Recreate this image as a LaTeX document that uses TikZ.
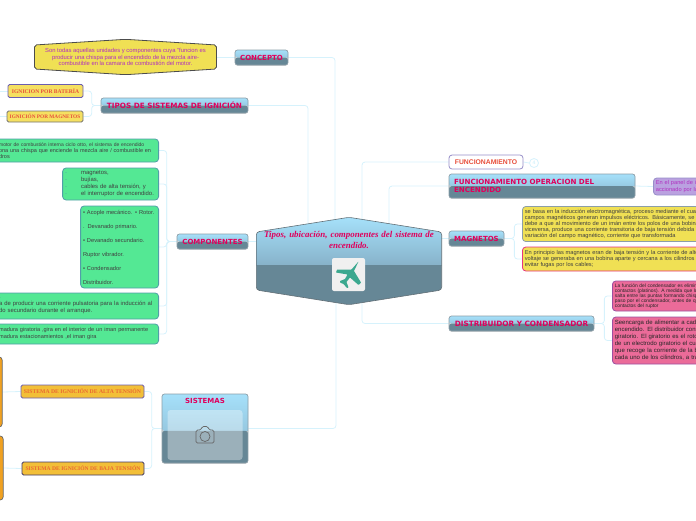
\documentclass[tikz,border=0pt]{standalone}
\usepackage{fontspec}
\setmainfont{Liberation Sans}
\newfontfamily\headfont{DejaVu Sans}
\newfontfamily\rootfont{Liberation Serif}
\usepackage{xcolor}
\usepackage{tikz}
\usetikzlibrary{positioning, shadows, calc, backgrounds}
\definecolor{mylink}{rgb}{0.84, 0.95, 0.99}
\definecolor{mycrimson}{rgb}{0.88, 0.00, 0.36}
\definecolor{mysky}{rgb}{0.65, 0.88, 0.98}
\definecolor{mysteel}{rgb}{0.53, 0.70, 0.79}
\definecolor{myslate}{rgb}{0.40, 0.53, 0.59}
\definecolor{myedge}{rgb}{0.55, 0.62, 0.66}
\definecolor{mygreen}{rgb}{0.33, 0.91, 0.58}
\definecolor{mygreenedge}{rgb}{0.32, 0.62, 0.66}
\definecolor{myyellow}{rgb}{0.94, 0.88, 0.33}
\definecolor{mylabel}{rgb}{0.96, 0.88, 0.38}
\definecolor{mygold}{rgb}{0.95, 0.75, 0.22}
\definecolor{myorange}{rgb}{0.94, 0.63, 0.13}
\definecolor{mypink}{rgb}{0.92, 0.42, 0.60}
\definecolor{myviolet}{rgb}{0.61, 0.31, 0.63}
\definecolor{mylilac}{rgb}{0.73, 0.63, 0.88}
\definecolor{myindigo}{rgb}{0.42, 0.37, 0.69}
\definecolor{myteal}{rgb}{0.23, 0.66, 0.56}
\definecolor{myred}{rgb}{0.91, 0.31, 0.23}
\definecolor{mymagenta}{rgb}{0.69, 0.19, 0.75}
\newcommand{\splitpaint}[1]{%
  \shade[top color=mysky, bottom color=mysteel] (path picture bounding box.north west) rectangle ($(path picture bounding box.west)!#1!(path picture bounding box.south west)+(200,0)$);
  \fill[myslate] ($(path picture bounding box.west)!#1!(path picture bounding box.south west)$) rectangle (path picture bounding box.south east);}
\newcommand{\hexpath}{(256.3,232) -- (349,217.3) -- (441.7,232) -- (441.7,290) -- (349,304.7) -- (256.3,290) -- cycle}
\tikzstyle{link} = [draw=mylink, line width=0.8pt, rounded corners=3pt]
\tikzstyle{branch} = [draw=myedge, line width=0.7pt, rounded corners=2.5pt, inner sep=1pt, text=mycrimson, drop shadow={shadow xshift=0pt, shadow yshift=-0.8pt, opacity=0.3}, font=\headfont\bfseries\fontsize{7}{8.2}\selectfont, path picture={\splitpaint{0.02}}]
\tikzstyle{note} = [draw, line width=0.8pt, rounded corners=3.5pt, anchor=west, inner sep=2.5pt, align=left, text=black!75, font=\fontsize{5.65}{6.2}\selectfont]
\tikzstyle{greennote} = [note, fill=mygreen, draw=mygreenedge, anchor=east, font=\fontsize{5.9}{7}\selectfont]
\tikzstyle{widenote} = [greennote, minimum width=163pt, text width=156pt, inner xsep=3.5pt]
\tikzstyle{tag} = [draw, line width=0.8pt, rounded corners=1.5pt, inner sep=1pt, minimum height=13pt, font=\rootfont\bfseries\fontsize{5.7}{6}\selectfont]
\begin{document}
\begin{tikzpicture}[x=1pt, y=-1pt]
    \useasboundingbox (0,0) rectangle (696,520);
    \clip (0,0) rectangle (696,520);

    % centre
    \begin{scope}
      \clip[rounded corners=3pt] \hexpath;
      \shade[top color=mysky, bottom color=mysteel] (256,217) rectangle (442,265);
      \fill[myslate] (256,265) rectangle (442,305);
    \end{scope}
    \draw[myedge!70!black, line width=0.6pt, rounded corners=3pt] \hexpath;
    \node[minimum width=187pt, minimum height=89pt, inner sep=0pt, text width=186pt, align=center, text=mycrimson, font=\rootfont\bfseries\itshape\fontsize{8.9}{11}\selectfont] (root) at (349,261) {\raisebox{18.5pt}[0pt][0pt]{\parbox{186pt}{\centering Tipos, ubicación, componentes del sistema de\\encendido.}}};
    \node[fill=white!94!black, rounded corners=2pt, minimum size=33pt] (plane) at (348.5,274.5) {};
    \fill[myteal, rounded corners=0.4pt, shift={(plane.center)}] (10,-13) -- (5.5,-3.5) -- (12.5,8) -- (10,10.5) -- (1.5,3) -- (-2,7.5) -- (0,13) -- (-1.5,13.5) -- (-5,9.5) -- (-8.5,8) -- (-8.5,6.5) -- (-3.5,4.5) -- (-1,0) -- (-12.5,-2) -- (-11.5,-5) -- (3,-5) -- cycle;

    % left side
    \node[branch, minimum width=53pt, minimum height=15pt] (concepto) at (261.5,57.5) {CONCEPTO};
    \draw[fill=myyellow, draw=black!70, line width=0.8pt, rounded corners=2pt] (34.5,45) -- (125.5,39.3) -- (216.5,45) -- (216.5,69) -- (125.5,74.7) -- (34.5,69) -- cycle;
    \node[minimum width=183pt, minimum height=36pt, inner sep=0pt, align=center, text=mymagenta, font=\fontsize{5.85}{6.7}\selectfont] (definicion) at (125.5,57) {Son todas aquellas unidades y componentes cuya "funcion es\\producir una chispa para el encendido de la mezcla aire-\\combustible en la camara de combustión del motor.};
    \node[branch, minimum width=147pt, minimum height=15pt, font=\headfont\bfseries\fontsize{7.25}{8.2}\selectfont] (tipos) at (174.5,105.5) {TIPOS DE SISTEMAS DE IGNICIÓN};
    \node[tag, fill=mylabel, draw=myindigo, text=myred, minimum width=75pt, font=\rootfont\bfseries\fontsize{5.6}{6}\selectfont] (bateria) at (45.5,91) {IGNICION POR BATERÍA};
    \node[tag, fill=mylabel, draw=black!55, text=myred, minimum width=76pt, minimum height=11pt, font=\rootfont\bfseries\fontsize{5.3}{6}\selectfont] (magnetos) at (45,116.5) {IGNICIÓN POR MAGNETOS};
    \coordinate (bateriaend) at (-4,91);
    \coordinate (magnetosend) at (-4,116.5);

    \node[branch, minimum width=71pt, minimum height=15pt] (componentes) at (212.5,241.5) {COMPONENTES};
    \node[widenote, minimum height=23pt, font=\fontsize{5.5}{6}\selectfont] (motor) at (159,150.5) {{\fontsize{5}{6}\selectfont motor de combustión interna ciclo otto, el sistema de encendido}\\ona una chispa que enciende la mezcla aire / combustible en\\dros};
    \node[greennote, minimum width=96pt, minimum height=32pt, text width=91pt, inner xsep=2.5pt] (partes) at (159,184) {\makebox[16pt][l]{\textcolor{mygreenedge}{-}}magnetos,\\ \makebox[16pt][l]{\textcolor{mygreenedge}{-}}bujías,\\ \makebox[16pt][l]{\textcolor{mygreenedge}{-}}cables de alta tensión, y\\ \makebox[16pt][l]{\textcolor{mygreenedge}{-}}el interruptor de encendido.};
    \node[greennote, minimum width=78pt, minimum height=82pt, text width=73pt, font=\fontsize{5.7}{14}\selectfont] (bobina) at (159,247) {• Acople mecánico. • Rotor.\\. Devanado primario.\\• Devanado secundario.\\Ruptor vibrador.\\• Condensador\\Distribuidor.};
    \node[widenote, minimum height=26pt] (pulso) at (159,306) {.\\a de producir una corriente pulsatoria para la inducción al\\do secundario durante el arranque.};
    \node[widenote, minimum height=20pt, font=\fontsize{5.6}{7}\selectfont] (iman) at (159,334) {madura giratoria ,gira en el interior de un iman permanente\\madura  estacionamientos ,el iman gira};

    \node[branch, minimum width=86pt, minimum height=69pt, path picture={\splitpaint{0.07}}] (sistemas) at (205,428.5) {};
    \node[text=mycrimson, font=\headfont\bfseries\fontsize{7}{8.2}\selectfont, inner sep=0pt] (sistemastxt) at (205,401) {SISTEMAS};
    \node[fill=white, fill opacity=0.35, rounded corners=3pt, minimum width=75pt, minimum height=50pt, inner sep=0pt] (foto) at (205,435) {};
    \draw[black!60, line width=0.7pt, rounded corners=1.5pt, shift={(foto.center)}] (-9,-5) -- (-4,-5) -- (-3,-8.5) -- (3,-8.5) -- (4,-5) -- (9,-5) -- (9,8) -- (-9,8) -- cycle;
    \draw[black!60, line width=0.7pt, shift={(foto.center)}] (0,1.5) circle (5pt);
    \node[tag, fill=mygold, draw=myindigo, text=myred!70!myorange, minimum width=123pt] (alta) at (82.5,391.5) {SISTEMA DE IGNICIÓN DE ALTA TENSIÓN};
    \node[tag, fill=mygold, draw=myindigo!60!black, text=myred!70!myorange, minimum width=122pt, font=\rootfont\bfseries\fontsize{5.6}{6}\selectfont] (baja) at (83,468.5) {SISTEMA DE IGNICIÓN DE BAJA TENSIÓN};
    \node[fill=myorange, draw=black!60, line width=0.7pt, rounded corners=3pt, minimum width=20pt, minimum height=70pt, anchor=east] (altabox) at (2.5,392) {};
    \node[fill=myorange, draw=black!60, line width=0.7pt, rounded corners=3pt, minimum width=20pt, minimum height=64pt, anchor=east] (bajabox) at (3.5,468) {};

    % right side
    \node[draw=myindigo!70, fill=white, line width=0.8pt, rounded corners=3pt, minimum width=74pt, minimum height=14pt, inner sep=0pt, text=myred, font=\bfseries\fontsize{6.8}{8}\selectfont] (funcionamiento) at (486,162) {FUNCIONAMIENTO};
    \node[circle, draw=mylink, fill=white, line width=0.8pt, minimum size=9pt, inner sep=0pt, text=mylink, font=\bfseries\fontsize{5}{6}\selectfont] (contador) at (534,163) {4};
    \node[branch, minimum width=186pt, minimum height=24pt, text width=176pt, align=left, font=\headfont\bfseries\fontsize{7.1}{8.2}\selectfont] (operacion) at (542,186) {FUNCIONAMIENTO OPERACION DEL\\ENCENDIDO};
    \node[note, fill=mylilac, draw=myindigo!70, minimum width=60pt, minimum height=17pt, text width=55pt, text=mymagenta] (panel) at (653,186.5) {En el panel de in\\accionado por la};
    \node[branch, minimum width=55pt, minimum height=15pt] (magneto) at (476.5,238.5) {MAGNETOS};
    \node[note, fill=myyellow, draw=myedge, minimum width=210pt, minimum height=34pt, text width=205pt] (induccion) at (522,224) {se basa en la inducción electromagnética, proceso mediante el cual\\campos magnéticos generan impulsos eléctricos. Básicamente, se\\debe a que al movimiento de un imán entre los polos de una bobina, o\\viceversa, produce una corriente transitoria de baja tensión debida a la\\variación del campo magnético, corriente que transformada};
    \node[note, fill=myyellow, draw=mycrimson!80, minimum width=210pt, minimum height=24pt, text width=205pt] (bobinas) at (522,259) {En principio las magnetos eran de baja tensión y la corriente de alto\\voltaje se generaba en una bobina aparte y cercana a los cilindros para\\evitar fugas por los cables;};
    \node[branch, minimum width=145pt, minimum height=15pt, font=\headfont\bfseries\fontsize{7.3}{8.2}\selectfont] (distribuidor) at (521.5,323.5) {DISTRIBUIDOR Y  CONDENSADOR};
    \node[note, fill=mypink, draw=myviolet, minimum width=100pt, minimum height=30pt, text width=95pt, font=\fontsize{4.9}{5}\selectfont, text=black!85] (condensador) at (612,296) {La función del condensador es eliminar l\\contactos (platinos). A medida que los co\\salta entre las puntas formando chispas,\\paso por el condensador, antes de que e\\contactos del ruptor};
    \node[note, fill=mypink, draw=myviolet, minimum width=100pt, minimum height=47pt, text width=95pt, font=\fontsize{6}{7}\selectfont, text=black!85] (carga) at (612,340.5) {Seencarga de alimentar a cad\\encendido. El distribuidor cons\\giratorio. El giratorio es el rotor\\de un electrodo giratorio el cua\\que recoge la corriente de la b\\cada uno de los cilindros, a tra};

    \begin{scope}[on background layer]
      \draw[link] (concepto.east) -| ([xshift=-14pt]root.center);
      \draw[link] (tipos.east) -| ([xshift=-41pt]root.center);
      \draw[link] (componentes.east) -- (componentes.east -| root.center);
      \draw[link] (sistemas.east) -| ([xshift=-13pt]root.center);
      \draw[link] (funcionamiento.west) -| ([xshift=13pt]root.center);
      \draw[link] (operacion.west) -| ([xshift=40pt]root.center);
      \draw[link] (magneto.west) -- (magneto.west -| root.center);
      \draw[link] (distribuidor.west) -| ([xshift=13pt]root.center);
      \draw[link] (concepto.west) -- (concepto.west -| definicion.center);
      \draw[link] (tipos.west) -- ++(-9,0) |- (bateria.east);
      \draw[link] (tipos.west) -- ++(-9,0) |- (magnetos.east);
      \draw[link] (bateria.west) -- (bateriaend);
      \draw[link] (magnetos.west) -- (magnetosend);
      \draw[link] (componentes.west) -- ++(-10,0) |- (motor.east);
      \draw[link] (componentes.west) -- ++(-10,0) |- (partes.east);
      \draw[link] (componentes.west) -- ++(-10,0) |- (bobina.east);
      \draw[link] (componentes.west) -- ++(-10,0) |- (pulso.east);
      \draw[link] (componentes.west) -- ++(-10,0) |- (iman.east);
      \draw[link] (sistemas.west) -- ++(-10,0) |- (alta.east);
      \draw[link] (sistemas.west) -- ++(-10,0) |- (baja.east);
      \draw[link] (alta.west) -- (altabox.east);
      \draw[link] (baja.west) -- (bajabox.east);
      \draw[link] (funcionamiento.east) -- (contador.west);
      \draw[link] (operacion.east) -- (panel.west);
      \draw[link] (magneto.east) -- ++(10,0) |- (induccion.west);
      \draw[link] (magneto.east) -- ++(10,0) |- (bobinas.west);
      \draw[link] (distribuidor.east) -- ++(10,0) |- (condensador.west);
      \draw[link] (distribuidor.east) -- ++(10,0) |- (carga.west);
    \end{scope}
\end{tikzpicture}
\end{document}
